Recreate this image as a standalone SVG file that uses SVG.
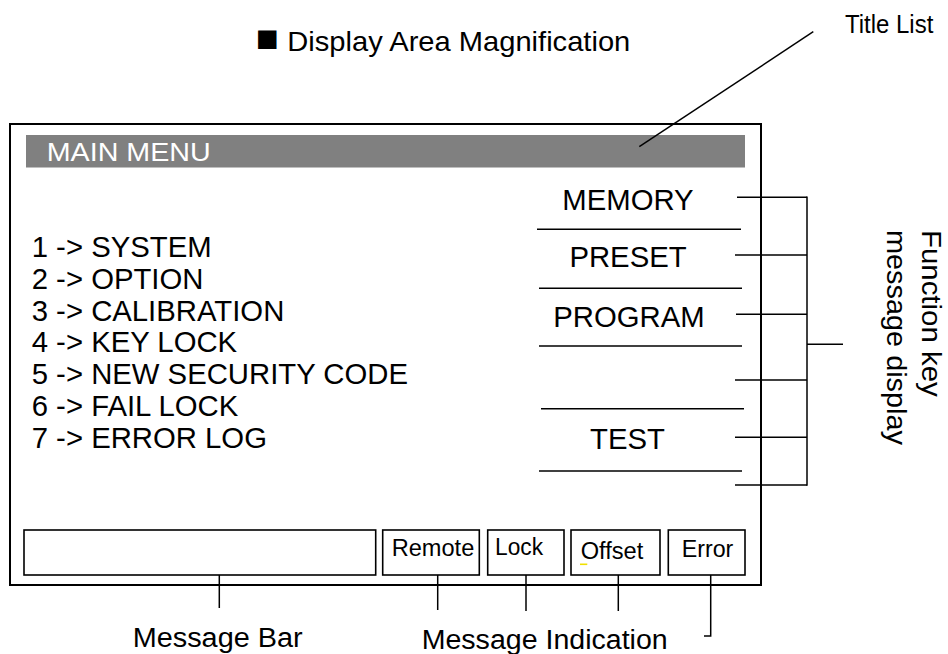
<svg xmlns="http://www.w3.org/2000/svg" width="948" height="654" viewBox="0 0 948 654">
<style>
text{font-family:"Liberation Sans",Arial,sans-serif;fill:#000}
.big{font-size:29.3px}
.lbl{font-size:27px}
.ind{font-size:23px}
.ln{stroke:#000;stroke-width:1.5;fill:none}
.box{fill:#fff;stroke:#000;stroke-width:1.6}
</style>
<rect width="948" height="654" fill="#fff"/>
<g id="heading">
  <text x="256" y="50.5" font-size="28.5"><tspan font-size="38">■</tspan><tspan x="287.3" textLength="343" lengthAdjust="spacingAndGlyphs">Display Area Magnification</tspan></text>
</g>
<g id="title-list-label">
  <text x="845" y="33.3" font-size="25.5" textLength="88.3" lengthAdjust="spacingAndGlyphs">Title List</text>
</g>
<g id="display-frame">
  <rect x="10" y="124" width="751" height="461" fill="#fff" stroke="#000" stroke-width="2"/>
</g>
<g id="title-bar">
  <rect x="26" y="135" width="719" height="32.5" fill="#808080"/>
  <text x="46.7" y="160.7" font-size="26.5" textLength="164" lengthAdjust="spacingAndGlyphs" style="fill:#fff">MAIN MENU</text>
</g>
<g id="menu-list">
  <text class="big" x="31.7" y="256.7">1 -&gt; SYSTEM</text>
  <text class="big" x="31.7" y="288.6">2 -&gt; OPTION</text>
  <text class="big" x="31.7" y="320.5">3 -&gt; CALIBRATION</text>
  <text class="big" x="31.7" y="352.4">4 -&gt; KEY LOCK</text>
  <text class="big" x="31.7" y="384.3">5 -&gt; NEW SECURITY CODE</text>
  <text class="big" x="31.7" y="416.2">6 -&gt; FAIL LOCK</text>
  <text class="big" x="31.7" y="448.1">7 -&gt; ERROR LOG</text>
</g>
<g id="function-keys">
  <text class="big" x="628" y="210" text-anchor="middle">MEMORY</text>
  <line class="ln" x1="537" y1="229.3" x2="741" y2="229.3"/>
  <text class="big" x="628" y="266.7" text-anchor="middle">PRESET</text>
  <line class="ln" x1="539" y1="288.3" x2="742" y2="288.3"/>
  <text class="big" x="629" y="326.7" text-anchor="middle">PROGRAM</text>
  <line class="ln" x1="539" y1="346" x2="742" y2="346"/>
  <line class="ln" x1="541" y1="408.7" x2="744" y2="408.7"/>
  <text class="big" x="627.5" y="449.3" text-anchor="middle">TEST</text>
  <line class="ln" x1="539" y1="471" x2="742" y2="471"/>
</g>
<g id="message-bar-box">
  <rect class="box" x="24" y="530" width="351.7" height="45"/>
</g>
<g id="remote-box">
  <rect class="box" x="382.7" y="530" width="96.6" height="45"/>
  <text class="ind" x="391.7" y="556" textLength="82.6" lengthAdjust="spacingAndGlyphs">Remote</text>
</g>
<g id="lock-box">
  <rect class="box" x="487.7" y="530" width="76.3" height="45"/>
  <text class="ind" x="495" y="555" textLength="48" lengthAdjust="spacingAndGlyphs">Lock</text>
</g>
<g id="offset-box">
  <rect class="box" x="571" y="530" width="89" height="45"/>
  <text class="ind" x="580.7" y="559" textLength="62.6" lengthAdjust="spacingAndGlyphs">Offset</text>
  <line x1="580" y1="564.3" x2="587.3" y2="564.3" stroke="#f0e000" stroke-width="1.6"/>
</g>
<g id="error-box">
  <rect class="box" x="668.3" y="530" width="76.7" height="45"/>
  <text class="ind" x="681.7" y="557.3" textLength="51.6" lengthAdjust="spacingAndGlyphs">Error</text>
</g>
<g id="message-bar-label">
  <text class="lbl" x="132.7" y="646.7" textLength="170" lengthAdjust="spacingAndGlyphs">Message Bar</text>
</g>
<g id="message-indication-label">
  <text class="lbl" x="421.7" y="648.5" textLength="246" lengthAdjust="spacingAndGlyphs">Message Indication</text>
</g>
<g id="function-key-label">
  <text class="lbl" transform="translate(921.7,230) rotate(90)" x="0" y="0" textLength="166.7" lengthAdjust="spacingAndGlyphs">Function key</text>
  <text class="lbl" transform="translate(887,230) rotate(90)" x="0" y="0" textLength="215" lengthAdjust="spacingAndGlyphs">message display</text>
</g>
<g id="connectors" class="ln">
  <line x1="813.3" y1="31.7" x2="639.3" y2="146.7"/>
  <line x1="737" y1="197.3" x2="807" y2="197.3"/>
  <line x1="735" y1="255" x2="807" y2="255"/>
  <line x1="736" y1="314.3" x2="807" y2="314.3"/>
  <line x1="735" y1="380" x2="807" y2="380"/>
  <line x1="735" y1="437.3" x2="807" y2="437.3"/>
  <line x1="735" y1="485" x2="807" y2="485"/>
  <line x1="807" y1="196.6" x2="807" y2="485.7"/>
  <line x1="807" y1="344.3" x2="843" y2="344.3"/>
  <line x1="219.3" y1="575" x2="219.3" y2="608"/>
  <line x1="437.7" y1="575" x2="437.7" y2="610"/>
  <line x1="526" y1="575" x2="526" y2="611"/>
  <line x1="618.3" y1="575" x2="618.3" y2="611"/>
  <polyline points="710.7,575 710.7,636 704,636"/>
</g>
</svg>
